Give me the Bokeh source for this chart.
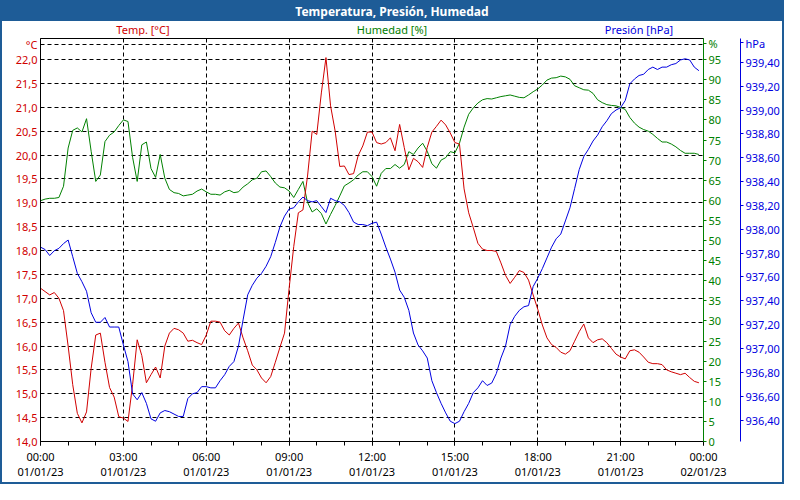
import pandas as pd
from bokeh.plotting import figure
from bokeh.models import (LinearAxis, Range1d, FixedTicker, CustomJSTickFormatter,
                          DatetimeTickFormatter, Div, ColumnDataSource)
from bokeh.layouts import column
from bokeh.embed import file_html
from bokeh.resources import INLINE

# ---------------- data ----------------
times = pd.date_range("2023-01-01 00:00", periods=144, freq="10min")

temp = [17.21, 17.14, 17.07, 17.12, 17.00, 16.74, 16.00, 15.19, 14.59, 14.39, 14.62, 15.53,
        16.23, 16.27, 15.66, 15.13, 14.93, 14.52, 14.49, 14.42, 15.19, 16.13, 15.80, 15.23,
        15.40, 15.56, 15.33, 16.00, 16.27, 16.37, 16.34, 16.27, 16.10, 16.12, 16.07, 16.03,
        16.23, 16.52, 16.52, 16.50, 16.32, 16.23, 16.37, 16.48, 16.17, 15.90, 15.60, 15.50,
        15.33, 15.23, 15.36, 15.66, 15.97, 16.27, 17.21, 18.08, 18.79, 18.85, 19.56, 20.50,
        20.43, 21.30, 22.04, 21.03, 20.50, 19.76, 19.77, 19.59, 19.61, 19.99, 20.19, 20.48,
        20.48, 20.26, 20.23, 20.26, 20.36, 20.09, 20.64, 20.16, 19.69, 19.93, 19.86, 19.74,
        20.16, 20.48, 20.60, 20.73, 20.63, 20.46, 20.26, 20.23, 19.29, 18.79, 18.48, 18.15,
        18.03, 18.00, 18.00, 17.98, 17.74, 17.48, 17.31, 17.44, 17.58, 17.54, 17.38, 17.07,
        16.77, 16.44, 16.17, 16.03, 15.97, 15.87, 15.83, 15.90, 16.10, 16.30, 16.46, 16.17,
        16.07, 16.13, 16.15, 16.07, 15.95, 15.83, 15.77, 15.73, 15.90, 15.92, 15.87, 15.77,
        15.66, 15.63, 15.63, 15.61, 15.50, 15.46, 15.43, 15.40, 15.43, 15.34, 15.26, 15.23]

hum = [59.9, 60.3, 60.5, 60.5, 60.7, 63.5, 73.0, 77.4, 78.0, 77.0, 80.3, 72.2,
       64.7, 66.3, 74.6, 76.2, 77.0, 78.6, 80.0, 79.6, 70.7, 64.7, 73.8, 74.5,
       67.9, 65.7, 71.4, 65.5, 62.7, 61.9, 61.7, 61.1, 61.3, 61.5, 62.3, 62.8,
       62.1, 61.5, 61.5, 61.3, 62.1, 62.5, 61.9, 62.1, 63.3, 64.1, 65.1, 65.5,
       67.1, 67.3, 65.9, 64.3, 63.3, 63.1, 62.3, 60.7, 62.7, 64.7, 59.5, 57.1,
       57.9, 56.7, 54.1, 56.5, 58.7, 61.1, 63.6, 64.3, 65.1, 66.3, 67.1, 67.1,
       65.9, 63.5, 66.7, 67.9, 67.9, 68.9, 68.0, 68.9, 72.1, 71.4, 73.0, 74.2,
       72.2, 69.1, 68.0, 70.0, 70.6, 72.1, 71.8, 74.2, 78.2, 81.4, 83.0, 84.2,
       85.0, 85.3, 85.2, 85.5, 85.8, 86.0, 86.2, 85.9, 85.6, 85.5, 86.2, 87.0,
       87.7, 88.7, 89.9, 90.4, 90.5, 90.9, 90.7, 90.1, 88.5, 88.0, 87.5, 87.4,
       86.6, 85.0, 84.3, 83.8, 83.6, 83.5, 83.1, 82.6, 80.6, 79.2, 78.2, 77.6,
       77.2, 76.4, 75.4, 74.5, 74.5, 74.0, 73.3, 72.4, 71.7, 71.7, 71.7, 71.4]

pres = [937.85, 937.83, 937.78, 937.82, 937.84, 937.88, 937.91, 937.77, 937.63, 937.56, 937.48, 937.30,
        937.22, 937.22, 937.26, 937.18, 937.18, 937.18, 937.03, 936.89, 936.62, 936.57, 936.63, 936.54,
        936.41, 936.39, 936.46, 936.48, 936.47, 936.45, 936.43, 936.43, 936.58, 936.62, 936.63, 936.68,
        936.68, 936.67, 936.67, 936.73, 936.78, 936.85, 936.89, 937.02, 937.24, 937.45, 937.53, 937.59,
        937.63, 937.69, 937.77, 937.89, 938.02, 938.11, 938.17, 938.18, 938.23, 938.27, 938.24, 938.23,
        938.24, 938.19, 938.14, 938.26, 938.24, 938.23, 938.20, 938.14, 938.06, 938.04, 938.04, 938.03,
        938.05, 938.06, 937.96, 937.85, 937.75, 937.64, 937.49, 937.43, 937.32, 937.13, 937.03, 936.98,
        936.92, 936.73, 936.63, 936.54, 936.46, 936.39, 936.37, 936.39, 936.47, 936.54, 936.63, 936.67,
        936.73, 936.69, 936.71, 936.79, 936.92, 937.02, 937.20, 937.27, 937.32, 937.35, 937.36, 937.52,
        937.59, 937.67, 937.76, 937.85, 937.92, 937.96, 938.07, 938.18, 938.34, 938.50, 938.61, 938.67,
        938.74, 938.79, 938.86, 938.91, 938.97, 939.00, 939.02, 939.08, 939.22, 939.26, 939.29, 939.30,
        939.34, 939.36, 939.34, 939.36, 939.36, 939.38, 939.39, 939.42, 939.43, 939.42, 939.36, 939.33]

temp_ticks = [14.0, 14.5, 15.0, 15.5, 16.0, 16.5, 17.0, 17.5, 18.0, 18.5, 19.0, 19.5,
              20.0, 20.5, 21.0, 21.5, 22.0]
hum_ticks = [0, 5, 10, 15, 20, 25, 30, 35, 40, 45, 50, 55, 60, 65, 70, 75, 80, 85, 90, 95]
pres_ticks = [936.4, 936.6, 936.8, 937.0, 937.2, 937.4, 937.6, 937.8, 938.0, 938.2,
              938.4, 938.6, 938.8, 939.0, 939.2, 939.4]
major_hours = [0, 3, 6, 9, 12, 15, 18, 21, 24]
minor_hours = list(range(0, 25))

title_text = "Temperatura, Presión, Humedad"
series_names = ["Temp. [°C]", "Humedad [%]", "Presión [hPa]"]
unit_names = ["°C", "%", "hPa"]
# axis value where each unit caption sits (top of each axis)
unit_at = [22.32, 99, 939.57]

# ---------------- styling ----------------
RED = "#d00000"
GREEN = "#008000"
BLUE = "#0000e0"
BAR = "#1e5c97"
FONT = "Noto Sans"
FS = "11px"

W, H_TITLE, H_HEAD = 780, 19, 14
H_FIG = 480 - H_TITLE - H_HEAD
LEFT = 38

t0 = pd.Timestamp("2023-01-01 00:00")
x_major = [(t0 + pd.Timedelta(hours=h)).timestamp() * 1000 for h in major_hours]
x_minor = [(t0 + pd.Timedelta(hours=h)).timestamp() * 1000 for h in minor_hours]
x_start = t0.to_pydatetime()
x_end = (t0 + pd.Timedelta(hours=24)).to_pydatetime()

p = figure(width=W, height=H_FIG, x_axis_type="datetime", title=None,
           x_range=Range1d(x_start, x_end), y_range=Range1d(14.0, 22.44),
           output_backend="svg", toolbar_location=None, margin=0,
           min_border_left=LEFT, min_border_top=3, min_border_bottom=35, min_border_right=2)
p.extra_y_ranges = {"hum": Range1d(0, 100.25), "pres": Range1d(936.22, 939.60)}
p.outline_line_color = "black"
p.outline_line_width = 1
p.background_fill_color = "white"
p.border_fill_color = "white"

# grid
p.xgrid.grid_line_color = "black"
p.ygrid.grid_line_color = "black"
p.grid.grid_line_dash = "4 3"
p.grid.grid_line_width = 1

# x axis
xa = p.xaxis[0]
xa.ticker = FixedTicker(ticks=x_major, minor_ticks=x_minor)
fmt = "%H:%M\n%d/%m/%y"
xa.formatter = DatetimeTickFormatter(hours=fmt, hourmin=fmt, days=fmt, minutes=fmt, minsec=fmt)
xa.major_tick_out = 4
xa.major_tick_in = 0
xa.minor_tick_out = 4
xa.minor_tick_in = 0
xa.axis_line_color = "black"
xa.axis_line_dash = "4 3"
xa.major_label_text_font = FONT
xa.major_label_text_font_size = FS
xa.major_label_text_color = "black"
xa.major_label_text_line_height = 1.05
xa.major_label_standoff = 3

# left (temperature) axis, with its unit caption at the top
ya = p.yaxis[0]
ya.ticker = FixedTicker(ticks=temp_ticks + [unit_at[0]])
ya.formatter = CustomJSTickFormatter(code="return tick.toFixed(1).replace('.', ',')")
ya.major_label_overrides = {unit_at[0]: unit_names[0]}
ya.major_tick_out = 0
ya.major_tick_in = 0
ya.minor_tick_out = 0
ya.minor_tick_in = 0
ya.axis_line_color = "black"
ya.major_label_text_color = RED
ya.major_label_text_font = FONT
ya.major_label_text_font_size = FS
ya.major_label_standoff = 3

# humidity axis
hax = LinearAxis(y_range_name="hum", ticker=FixedTicker(ticks=hum_ticks + [unit_at[1]]),
                 major_label_overrides={unit_at[1]: unit_names[1]},
                 axis_line_color=GREEN, major_tick_line_color=GREEN,
                 major_tick_out=3, major_tick_in=0, minor_tick_out=0, minor_tick_in=0,
                 major_label_text_color=GREEN, major_label_text_font=FONT,
                 major_label_text_font_size=FS, major_label_standoff=2)
p.add_layout(hax, "right")

# spacer between the two right axes (one invisible tick, empty label)
spacer = LinearAxis(y_range_name="hum", ticker=FixedTicker(ticks=[50]),
                    major_label_overrides={50: ""},
                    axis_line_color=None, major_tick_line_color="white",
                    major_tick_out=16, major_tick_in=0, minor_tick_out=0, minor_tick_in=0,
                    major_label_standoff=0)
p.add_layout(spacer, "right")

# pressure axis
pax = LinearAxis(y_range_name="pres", ticker=FixedTicker(ticks=pres_ticks + [unit_at[2]]),
                 formatter=CustomJSTickFormatter(code="return tick.toFixed(2).replace('.', ',')"),
                 major_label_overrides={unit_at[2]: unit_names[2]},
                 axis_line_color=BLUE, major_tick_line_color=BLUE,
                 major_tick_out=3, major_tick_in=0, minor_tick_out=0, minor_tick_in=0,
                 major_label_text_color=BLUE, major_label_text_font=FONT,
                 major_label_text_font_size=FS, major_label_standoff=2)
p.add_layout(pax, "right")

# lines
src = ColumnDataSource(dict(t=times, temp=temp, hum=hum, pres=pres))
p.line("t", "hum", source=src, line_color=GREEN, line_width=1, y_range_name="hum")
p.line("t", "temp", source=src, line_color=RED, line_width=1)
p.line("t", "pres", source=src, line_color=BLUE, line_width=1, y_range_name="pres")

# title bar
title = Div(text=title_text, width=W, height=H_TITLE, margin=0,
            styles={"background-color": BAR, "color": "white", "font-weight": "bold",
                    "font-size": "12px", "font-family": FONT, "text-align": "center",
                    "line-height": f"{H_TITLE}px"})

# series captions row above the plot frame
name_centers = [141, 390, 637]
name_colors = [RED, GREEN, BLUE]
spans = "".join(
    f'<span style="position:absolute;left:{c}px;top:2px;transform:translateX(-50%);'
    f'white-space:nowrap;color:{col};">{n}</span>'
    for n, c, col in zip(series_names, name_centers, name_colors))
header = Div(text=f'<div style="position:relative;width:{W}px;height:{H_HEAD}px;'
                  f'font-family:{FONT};font-size:{FS};line-height:{H_HEAD}px;">{spans}</div>',
             width=W, height=H_HEAD, margin=0, styles={"background-color": "white"})

layout = column(title, header, p, margin=0, spacing=0,
                styles={"border": f"2px solid {BAR}", "background-color": "white"})

open("out.html", "w").write(file_html(layout, INLINE))
